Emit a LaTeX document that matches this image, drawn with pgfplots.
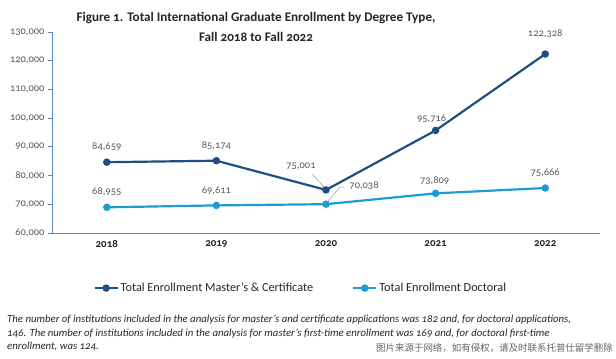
\documentclass[border=0pt]{standalone}
\usepackage{pgfplots}
\pgfplotsset{compat=1.18}
\usepackage{fontspec}
\setmainfont{Carlito}[Numbers=OldStyle]
\newfontfamily\cjk{Noto Sans CJK SC}
\definecolor{mdark}{HTML}{1F4E82}
\definecolor{dlight}{HTML}{1E9AD8}
\definecolor{axcol}{HTML}{5A86B8}
\definecolor{txt}{HTML}{595959}
\begin{document}
\begin{tikzpicture}[x=1bp,y=1bp]
\useasboundingbox (0,0) rectangle (616,358);
\fill[white] (0,0) rectangle (616,358);
\begin{axis}[
  at={(52bp,125bp)}, anchor=south west,
  scale only axis, width=548bp, height=201bp,
  xmin=-0.5, xmax=4.5, ymin=60000, ymax=130000,
  axis x line*=bottom, axis y line*=left,
  axis line style={draw=axcol, line width=0.9pt},
  xtick={0,1,2,3,4}, xticklabels={2018,2019,2020,2021,2022},
  x tick label style={font=\fontsize{11}{12}\selectfont\bfseries, text=black!85},
  major x tick style={draw=none},
  ytick={60000,70000,80000,90000,100000,110000,120000,130000},
  y tick label style={font=\fontsize{10.5}{12}\selectfont, text=txt},
  major y tick style={draw=axcol, line width=0.8pt},
  tick align=outside, major tick length=4bp,
  /pgf/number format/.cd, fixed, 1000 sep={,}, assume math mode=true,
  /pgfplots/.cd,
  scaled y ticks=false,
  clip=false,
  legend style={at={(0.07,-0.274)}, anchor=west, draw=none, fill=none,
    font=\fontsize{12.3}{14}\selectfont, text=black!85,
    /tikz/every even column/.append style={column sep=37bp}},
  legend columns=2,
  legend image code/.code={\draw[#1, mark=none] (0bp,0bp) -- (23bp,0bp); \draw[#1,only marks] plot coordinates {(11.5bp,0bp)};},
]
\addplot[mdark, line width=2.2pt, mark=*, mark size=2.6pt] coordinates {
 (0,84659) (1,85174) (2,75001) (3,95716) (4,122328)};
\addlegendentry{Total Enrollment Master's \& Certificate}
\addplot[dlight, line width=2.2pt, mark=*, mark size=2.6pt] coordinates {
 (0,68955) (1,69611) (2,70038) (3,73809) (4,75666)};
\addlegendentry{Total Enrollment Doctoral}
\begin{scope}[every node/.style={font=\fontsize{10.5}{12}\selectfont, text=txt}]
\node at (axis cs:0,84659) [yshift=15bp] {84,659};
\node at (axis cs:1,85174) [yshift=15bp] {85,174};
\node at (axis cs:3,95716) [yshift=12bp, xshift=-4bp] {95,716};
\node at (axis cs:4,122328) [yshift=20bp] {122,328};
\node at (axis cs:0,68955) [yshift=15bp] {68,955};
\node at (axis cs:1,69611) [yshift=15bp] {69,611};
\node at (axis cs:3,73809) [yshift=13bp, xshift=-1bp] {73,809};
\node at (axis cs:4,75666) [yshift=15bp] {75,666};
\node at (axis cs:2,75001) [xshift=-25bp, yshift=24bp] {75,001};
\node at (axis cs:2,70038) [xshift=38bp, yshift=18bp] {70,038};
\draw[black!35, line width=0.6pt] (axis cs:2,75001) ++(-2bp,3bp) -- ++(-12bp,13bp);
\draw[black!35, line width=0.6pt] (axis cs:2,70038) ++(2bp,3bp) -- ++(12bp,14bp) -- ++(4bp,0bp);
\end{scope}
\end{axis}
\node[font=\fontsize{13.2}{20}\selectfont\bfseries, align=center, text=black!85] at (256,331.5) {Figure 1. Total International Graduate Enrollment by Degree Type,\\Fall 2018 to Fall 2022};
\node[anchor=north west, inner sep=0pt, align=left, font=\fontsize{10.8}{13.5}\selectfont\itshape, text=black!85] at (7,43) {The number of institutions included in the analysis for master's and certificate applications was 182 and, for doctoral applications,\\146. The number of institutions included in the analysis for master's first-time enrollment was 169 and, for doctoral first-time\\enrollment, was 124.};
\node[anchor=west, inner sep=0pt, font=\fontsize{9.5}{11}\selectfont\cjk, text=black!60] at (376,10) {图片来源于网络，如有侵权，请及时联系托普仕留学删除};
\end{tikzpicture}
\end{document}
